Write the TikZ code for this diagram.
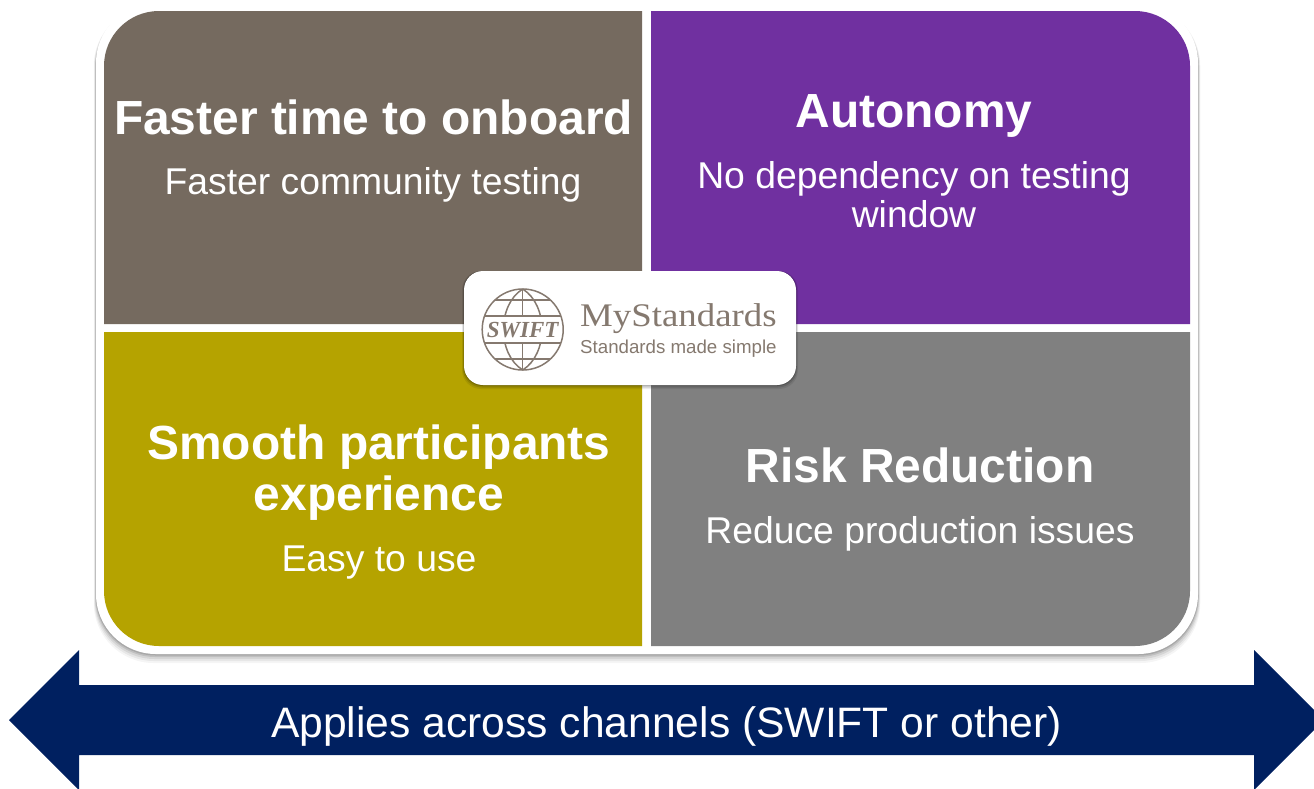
\documentclass[tikz,border=0pt]{standalone}
\usepackage{fontspec}
\setmainfont{Liberation Sans}
\newfontfamily\logoserif[FakeStretch=1.116]{Liberation Serif}
\newfontfamily\swiftfont{Liberation Serif}
\definecolor{qbrown}{HTML}{756A5F}
\definecolor{qpurple}{HTML}{7030A0}
\definecolor{qolive}{HTML}{B5A300}
\definecolor{qgray}{HTML}{808080}
\definecolor{qnavy}{HTML}{002060}
\definecolor{logoc}{HTML}{85796F}
\newcommand{\fsz}[1]{\fontsize{#1}{#1}\selectfont}
\tikzset{
 head/.style={text=white,font=\bfseries\fsz{47.9},align=center,inner sep=0pt},
 sub/.style={text=white,font=\fsz{37.3},align=center,inner sep=0pt},
 globeline/.style={draw=logoc,line width=1.5pt}
}
\begin{document}
\begin{tikzpicture}[x=1pt,y=-1pt]
\useasboundingbox (0,0) rectangle (1314,788);
% soft shadow of the white frame
\foreach \w/\o in {9/.04,7/.06,5/.08,3/.1,1.5/.12}
  \fill[black,opacity=\o,rounded corners=60] (96-\w/4,6) rectangle (1198+\w/4,654+\w);
\fill[white,rounded corners=60] (96,3) rectangle (1198,654);
% quadrants
\fill[qbrown]  (104,324) -- (104,66) arc[start angle=180,end angle=270,radius=55] -- (642,11) -- (642,324) -- cycle;
\fill[qpurple] (651,324) -- (651,11) -- (1135,11) arc[start angle=270,end angle=360,radius=55] -- (1190,324) -- cycle;
\fill[qolive]  (104,332) -- (642,332) -- (642,646) -- (159,646) arc[start angle=90,end angle=180,radius=55] -- cycle;
\fill[qgray]   (651,332) -- (1190,332) -- (1190,591) arc[start angle=0,end angle=90,radius=55] -- (651,646) -- cycle;
% texts
\node[head] (t1) at (373.5,117.5) {Faster time to onboard};
\node[sub]  (s1) at (373,185) {Faster community testing};
\node[head] (t2) at (914,116) {Autonomy};
\node[sub] (s2) at (914,195) {No dependency on testing\\[2pt]window};
\node[head] (t3) at (379,473) {Smooth participants\\[3pt]experience};
\node[sub]  (s3) at (379,563) {Easy to use};
\node[head] (t4) at (920,465.5) {Risk Reduction};
\node[sub]  (s4) at (920,534) {Reduce production issues};
% logo card
\foreach \w/\o in {4/.08,2.5/.12,1/.18}
  \fill[black,opacity=\o,rounded corners=19] (464-\w/2,271) rectangle (796+\w/2,385+\w);
\node[fill=white,rounded corners=19,minimum width=332pt,minimum height=114pt,inner sep=0pt] (card) at (630,328) {};
% globe
\coordinate (g) at (522.7,329.5);
\draw[globeline] (522.7,289) -- (522.7,370);
\draw[globeline] (522.7,289) .. controls (497,305) and (497,354) .. (522.7,370);
\draw[globeline] (522.7,289) .. controls (548.4,305) and (548.4,354) .. (522.7,370);
\draw[globeline] (495,300) -- (550,300);
\draw[globeline] (485,316) -- (561,316);
\draw[globeline] (485,343) -- (561,343);
\draw[globeline] (495,359) -- (550,359);
\fill[white] (484,317) rectangle (562,342);
\draw[globeline] (g) circle[radius=40.5];
\node[inner sep=0pt,text=logoc,font=\bfseries\itshape\swiftfont\fsz{23}] (swift) at (522.7,330) {SWIFT};
\node[inner sep=0pt,text=logoc,font=\logoserif\fsz{33},anchor=base west] (ms) at (580,326.5) {MyStandards};
\node[inner sep=0pt,text=logoc,font=\fsz{18.7},anchor=base west] (tag) at (580,353) {Standards made simple};
% arrow
\fill[qnavy] (9,720) -- (79,650) -- (79,685) -- (1254,685) -- (1254,650) -- (1324,720) -- (1254,790) -- (1254,755) -- (79,755) -- (79,790) -- cycle;
\node[inner sep=0pt,text=white,font=\fsz{42.6}] (ar) at (666.5,726) {Applies across channels (SWIFT or other)};
\end{tikzpicture}
\end{document}
